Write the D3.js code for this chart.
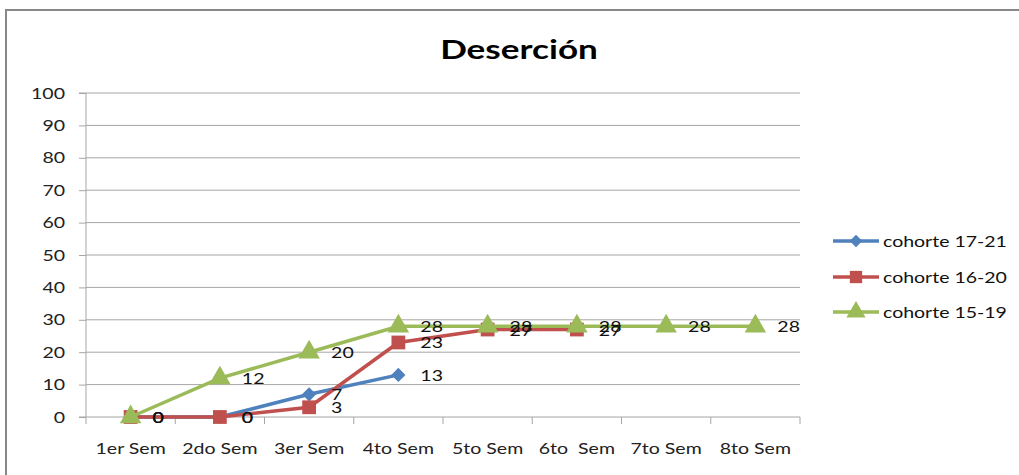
<!DOCTYPE html>
<html>
<head>
<meta charset="utf-8">
<script src="https://cdn.jsdelivr.net/npm/d3@7"></script>
<style>
body { margin: 0; background: #fff; }
text { font-family: Lato, "Open Sans", sans-serif; }
</style>
</head>
<body>
<script>
// categories and series
const categories = ["1er Sem", "2do Sem", "3er Sem", "4to Sem", "5to Sem", "6to  Sem", "7to Sem", "8to Sem"];
const c1721 = [0, 0, 7, 13];
const c1620 = [0, 0, 3, 23, 27, 27];
const c1519 = [0, 12, 20, 28, 28, 28, 28, 28];
const seriesNames = ["cohorte 17-21", "cohorte 16-20", "cohorte 15-19"];
const yTicks = [0, 10, 20, 30, 40, 50, 60, 70, 80, 90, 100];

const width = 1019, height = 475;
const plotLeft = 86, plotRight = 800, plotTop = 93, plotBottom = 417;
const stretch = 1.22; // the original picture looks horizontally stretched

// widen a text around its own x anchor
function widen(sel, s = stretch) {
    sel.attr("transform", function () {
        const x0 = +(this.getAttribute("x") || 0);
        return `translate(${x0 * (1 - s)},0) scale(${s},1)`;
    });
}

const svg = d3.select("body").append("svg")
    .attr("width", width)
    .attr("height", height);

// chart frame
svg.append("path")
    .attr("d", `M6,${height + 5} V10 H${width + 5}`)
    .attr("fill", "none")
    .attr("stroke", "#888")
    .attr("stroke-width", 2);

svg.append("text")
    .attr("x", 519)
    .attr("y", 59)
    .attr("text-anchor", "middle")
    .attr("font-size", 27)
    .attr("font-weight", "bold")
    .attr("fill", "#000")
    .text("Deserción")
    .call(widen, 1.3);

const x = d3.scaleBand().domain(categories).range([plotLeft, plotRight]);
const y = d3.scaleLinear().domain([0, 100]).range([plotBottom, plotTop]);

// gridlines
svg.append("g")
    .selectAll("line")
    .data(yTicks.filter(d => d > 0))
    .enter()
    .append("line")
    .attr("x1", plotLeft)
    .attr("x2", plotRight)
    .attr("y1", d => y(d))
    .attr("y2", d => y(d))
    .attr("stroke", "#a6a6a6")
    .attr("stroke-width", 1);

// y axis
const yAxis = svg.append("g")
    .attr("transform", `translate(${plotLeft},0)`)
    .call(d3.axisLeft(y).tickValues(yTicks).tickSize(7).tickPadding(14));
yAxis.selectAll("line, path").attr("stroke", "#a6a6a6");
yAxis.select(".domain").attr("d", `M-7,${plotTop}H0V${plotBottom}H-7`);
yAxis.selectAll("text")
    .attr("font-size", 16)
    .attr("fill", "#222")
    .style("font-family", "Lato, sans-serif")
    .call(widen);

// x axis
const xAxis = svg.append("g")
    .attr("transform", `translate(0,${plotBottom})`)
    .call(d3.axisBottom(x).tickSize(0).tickPadding(26));
xAxis.select(".domain").attr("stroke", "#a6a6a6").attr("d", `M${plotLeft},0H${plotRight}`);
xAxis.selectAll("text")
    .attr("font-size", 16)
    .attr("fill", "#222")
    .style("font-family", "Lato, sans-serif")
    .style("white-space", "pre")
    .call(widen);
xAxis.selectAll(".bound")
    .data(d3.range(categories.length + 1))
    .enter()
    .append("line")
    .attr("x1", i => plotLeft + i * x.bandwidth())
    .attr("x2", i => plotLeft + i * x.bandwidth())
    .attr("y1", 0)
    .attr("y2", 7)
    .attr("stroke", "#a6a6a6");

const series = [
    { name: seriesNames[0], values: c1721, color: "#4F81BD", symbol: d3.symbolSquare, size: 100, rot: 45 },
    { name: seriesNames[1], values: c1620, color: "#C0504D", symbol: d3.symbolSquare, size: 190, rot: 0 },
    { name: seriesNames[2], values: c1519, color: "#9BBB59", symbol: d3.symbolTriangle, size: 200, rot: 0 }
];

const cx = (d, i) => x(categories[i]) + x.bandwidth() / 2;
const line = d3.line().x(cx).y(d => y(d));

series.forEach(s => {
    const g = svg.append("g");
    g.append("path")
        .datum(s.values)
        .attr("d", line)
        .attr("fill", "none")
        .attr("stroke", s.color)
        .attr("stroke-width", 3.5);
    g.selectAll("path.m")
        .data(s.values)
        .enter()
        .append("path")
        .attr("class", "m")
        .attr("d", d3.symbol().type(s.symbol).size(s.size))
        .attr("transform", (d, i) => `translate(${cx(d, i)},${y(d)}) rotate(${s.rot})`)
        .attr("fill", s.color);
});

series.forEach(s => {
    svg.append("g")
        .selectAll("text")
        .data(s.values)
        .enter()
        .append("text")
        .attr("x", (d, i) => cx(d, i) + 22)
        .attr("y", d => y(d) + 6)
        .attr("font-size", 16)
        .attr("fill", "#111")
        .text(d => d)
        .call(widen);
});

// legend
const legendY = [241, 277, 312];
series.forEach((s, i) => {
    const g = svg.append("g").attr("transform", `translate(833,${legendY[i]})`);
    g.append("line")
        .attr("x1", 0).attr("x2", 46)
        .attr("stroke", s.color)
        .attr("stroke-width", 3.5);
    g.append("path")
        .attr("d", d3.symbol().type(s.symbol).size(s.size * 0.8))
        .attr("transform", `translate(23,0) rotate(${s.rot})`)
        .attr("fill", s.color);
    g.append("text")
        .attr("x", 50)
        .attr("y", 6)
        .attr("font-size", 16)
        .attr("fill", "#111")
        .text(s.name)
        .call(widen);
});
</script>
</body>
</html>
